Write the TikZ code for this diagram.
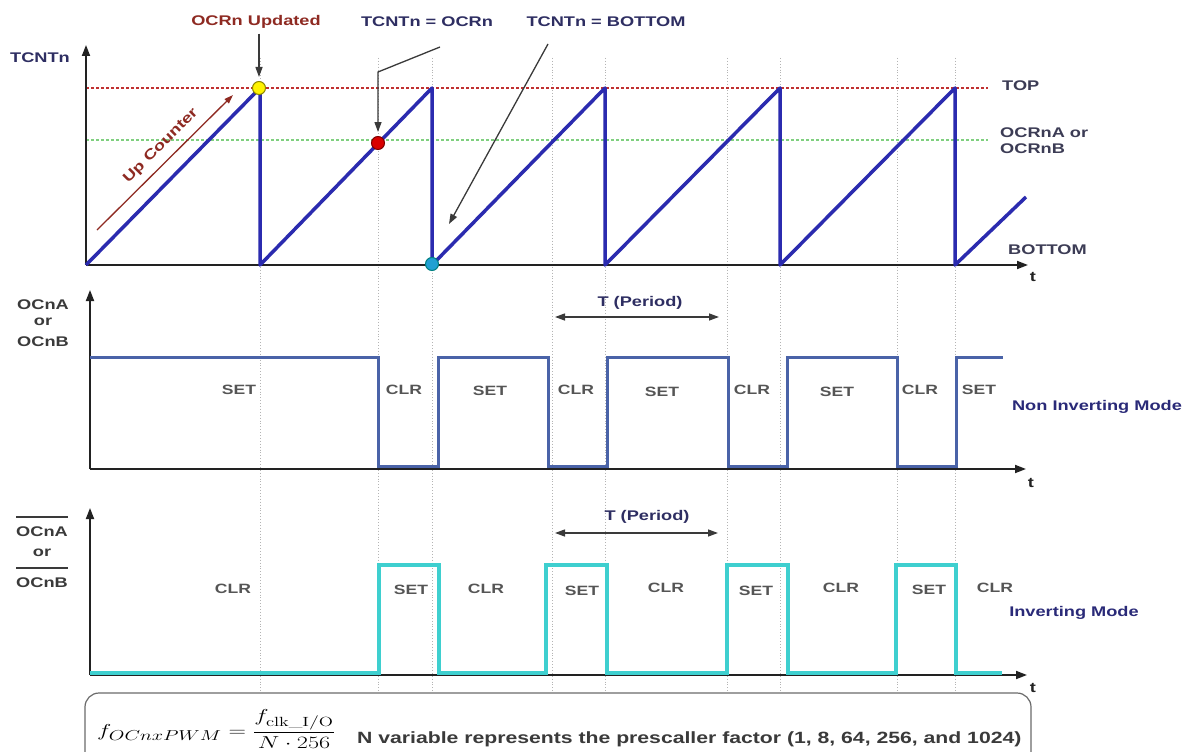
\documentclass[tikz,border=0pt]{standalone}
\usepackage{fontspec}
\usepackage{amsmath}
\usepackage{graphicx}
\newfontfamily\labfont[FakeStretch=1.3]{Liberation Sans}
\usetikzlibrary{arrows.meta}
\definecolor{sawblue}{HTML}{2B2BAF}
\definecolor{sigblue}{HTML}{4A63A8}
\definecolor{invcyan}{HTML}{3ECFCF}
\definecolor{axisc}{HTML}{222222}
\definecolor{gridc}{HTML}{B4B4B4}
\definecolor{topred}{HTML}{C03030}
\definecolor{ocrgreen}{HTML}{7FD07F}
\definecolor{navy}{HTML}{2E2E62}
\definecolor{dred}{HTML}{8E2A22}
\definecolor{lblgrey}{HTML}{3A3A3A}
\definecolor{scgrey}{HTML}{555555}
\definecolor{sidec}{HTML}{3C3C55}
\definecolor{modec}{HTML}{2A2A78}
\definecolor{ptrc}{HTML}{3A3A3A}
\definecolor{boxc}{HTML}{6A6A6A}
\begin{document}
\begin{tikzpicture}[x=1pt,y=-1pt,
  lbl/.style={font=\labfont\bfseries\fontsize{14}{16}\selectfont, inner sep=0pt},
  sc/.style={font=\labfont\bfseries\fontsize{13.5}{15}\selectfont, inner sep=0pt, text=scgrey},
  axis/.style={line width=1.8pt, draw=axisc, -{Triangle[length=11pt,width=8pt]}},
  gridl/.style={draw=gridc, line width=0.9pt, dotted},
  topline/.style={draw=topred, line width=1.1pt, dash pattern=on 3pt off 2pt},
  ocrline/.style={draw=ocrgreen, line width=1.3pt, dash pattern=on 3pt off 2pt},
  sawline/.style={draw=sawblue, line width=3.5pt, line join=round},
  sigline/.style={draw=sigblue, line width=3pt},
  invline/.style={draw=invcyan, line width=3.5pt},
  pointer/.style={draw=ptrc, line width=1.3pt, -{Triangle[length=10pt,width=7pt]}},
  upc/.style={draw=dred, line width=1.3pt, -{Triangle[length=9pt,width=6pt]}},
  period/.style={draw=ptrc, line width=1.3pt, {Triangle[length=10pt,width=7pt]}-{Triangle[length=10pt,width=7pt]}},
  dot/.style={circle, minimum size=13pt, inner sep=0pt, line width=1pt}
]
\clip (0,0) rectangle (1195,752);
\fill[white] (0,0) rectangle (1195,752);
\useasboundingbox (0,0) rectangle (1195,752);

% grid
\foreach \gx in {260,378,432,552,605,727,780,897,955}
  \draw[gridl] (\gx,58) -- (\gx,692);

% ---------- top panel ----------
\draw[topline] (86,88) -- (988,88);
\draw[ocrline] (86,140) -- (988,140);
\draw[axis] (86,265) -- (86,45);
\draw[axis] (86,265) -- (1028,265);
\draw[sawline] (86,265) -- (260,88) -- (260,265) -- (432,88) -- (432,265)
  -- (605,88) -- (605,265) -- (780,88) -- (780,265) -- (955,88) -- (955,265) -- (1026,197);

\node[dot, fill=yellow, draw=olive] (ydot) at (259,88) {};
\node[dot, fill=red!85!black, draw=red!50!black] (rdot) at (378,143) {};
\node[dot, fill=cyan!70!teal, draw=teal] (cdot) at (432,264) {};

\node[lbl, text=navy] (tcnt) at (40,58) {TCNTn};
\node[lbl, text=dred] (upd) at (256,22) {OCRn Updated};
\node[lbl, text=navy] (eqocr) at (427,22) {TCNTn = OCRn};
\node[lbl, text=navy] (eqbot) at (606,22) {TCNTn = BOTTOM};

\draw[pointer, shorten <=5pt, shorten >=4pt] (upd.south -| ydot.north) -- (ydot.north);
\coordinate (o1) at (440,47);
\coordinate (o2) at (378,72);
\draw[pointer, shorten >=4pt] (o1) -- (o2) -- (rdot.north);
\coordinate (b1) at (548,44);
\coordinate (b2) at (449,224);
\draw[pointer] (b1) -- (b2);

\coordinate (u1) at (97,230);
\coordinate (u2) at (233,95);
\draw[upc] (u1) -- (u2);
\node[lbl, text=dred, rotate=45] (uptxt) at (161,146) {Up Counter};

\node[lbl, text=sidec, anchor=west] (toplbl) at (1002,86) {TOP};
\node[lbl, text=sidec, anchor=north west, align=left] (ocrlbl) at (1000,128) {OCRnA or\\OCRnB};
\node[lbl, text=sidec, anchor=west] (botlbl) at (1008,250) {BOTTOM};
\node[lbl, text=axisc] (t1) at (1033,277) {t};

% ---------- middle panel ----------
\draw[axis] (90,469) -- (90,290);
\draw[axis] (90,469) -- (1026,469);
\node[lbl, text=lblgrey] (oa) at (43,305) {OCnA};
\node[lbl, text=lblgrey] (oor) at (43,322) {or};
\node[lbl, text=lblgrey] (ob) at (43,342) {OCnB};
\node[lbl, text=axisc] (t2) at (1031,483) {t};

\draw[sigline] (90,357) -- (378,357) -- (378,466) -- (438,466) -- (438,357)
  -- (548,357) -- (548,466) -- (607,466) -- (607,357) -- (728,357) -- (728,466)
  -- (787,466) -- (787,357) -- (897,357) -- (897,466) -- (956,466) -- (956,357) -- (1003,357);

\node[sc] (m1) at (239,390) {SET};
\node[sc] (m2) at (404,390) {CLR};
\node[sc] (m3) at (490,391) {SET};
\node[sc] (m4) at (576,390) {CLR};
\node[sc] (m5) at (662,392) {SET};
\node[sc] (m6) at (752,390) {CLR};
\node[sc] (m7) at (837,392) {SET};
\node[sc] (m8) at (920,390) {CLR};
\node[sc] (m9) at (979,390) {SET};
\node[lbl, text=modec] (nim) at (1097,407) {Non Inverting Mode};

\node[lbl, text=navy] (tp1) at (640,303) {T (Period)};
\coordinate (p1l) at (555,317);
\coordinate (p1r) at (719,317);
\draw[period] (p1l) -- (p1r);

% ---------- bottom panel ----------
\draw[axis] (90,675) -- (90,508);
\draw[axis] (90,675) -- (1027,675);
\node[lbl, text=lblgrey] (ia) at (42,532) {OCnA};
\node[lbl, text=lblgrey] (ior) at (42,553) {or};
\node[lbl, text=lblgrey] (ib) at (42,583) {OCnB};
\draw[line width=2.2pt, lblgrey] ([yshift=10pt]ia.north west) -- ([yshift=10pt]ia.north east);
\draw[line width=2.2pt, lblgrey] ([yshift=10pt]ib.north west) -- ([yshift=10pt]ib.north east);
\node[lbl, text=axisc] (t3) at (1033,688) {t};

\draw[invline] (90,673) -- (379,673) -- (379,565) -- (439,565) -- (439,673)
  -- (546,673) -- (546,565) -- (607,565) -- (607,673) -- (727,673) -- (727,565)
  -- (788,565) -- (788,673) -- (896,673) -- (896,565) -- (956,565) -- (956,673) -- (1002,673);

\node[sc] (n1) at (233,589) {CLR};
\node[sc] (n2) at (411,590) {SET};
\node[sc] (n3) at (486,589) {CLR};
\node[sc] (n4) at (582,591) {SET};
\node[sc] (n5) at (666,588) {CLR};
\node[sc] (n6) at (756,591) {SET};
\node[sc] (n7) at (841,588) {CLR};
\node[sc] (n8) at (929,590) {SET};
\node[sc] (n9) at (995,588) {CLR};
\node[lbl, text=modec] (im) at (1074,613) {Inverting Mode};

\node[lbl, text=navy] (tp2) at (647,517) {T (Period)};
\coordinate (p2l) at (555,533);
\coordinate (p2r) at (718,533);
\draw[period] (p2l) -- (p2r);

% ---------- formula box ----------
\draw[boxc, line width=1.2pt, rounded corners=14pt] (85,693) rectangle (1031,780);
\node[inner sep=0pt, anchor=west] (fml) at (97,729)
  {\scalebox{1.4}[1]{\fontsize{19}{22}\selectfont$f_{OCnxPWM} = \dfrac{f_{\mathrm{clk\_I/O}}}{N\cdot 256}$}};
\node[inner sep=0pt, anchor=west, text=lblgrey, font=\labfont\bfseries\fontsize{16.3}{18}\selectfont] (ntext) at (357,739)
  {N variable represents the prescaller factor (1, 8, 64, 256, and 1024)};
\end{tikzpicture}
\end{document}
